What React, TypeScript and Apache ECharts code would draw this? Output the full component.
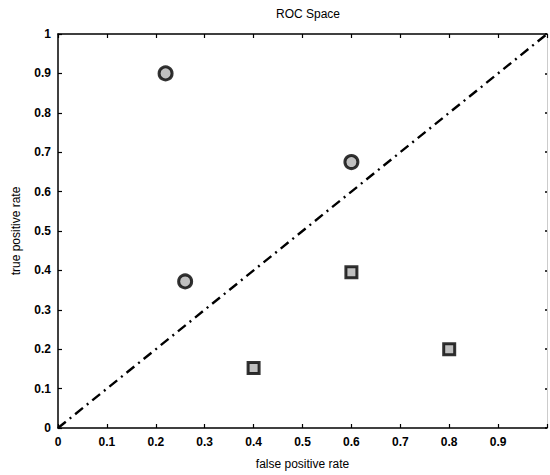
import React, { useEffect, useRef } from "react";
import * as echarts from "echarts";

// Classifier operating points: [false positive rate, true positive rate]
const circlePoints: number[][] = [
  [0.22, 0.9],
  [0.6, 0.675],
  [0.26, 0.372],
];
const squarePoints: number[][] = [
  [0.6, 0.395],
  [0.4, 0.152],
  [0.8, 0.2],
];
// Random-guess diagonal
const diagonal: number[][] = [
  [0, 0],
  [1, 1],
];

const titleText = "ROC Space";
const xAxisName = "false positive rate";
const yAxisName = "true positive rate";

const FONT = "'Liberation Sans', Arial, Helvetica, sans-serif";

export default function App() {
  const ref = useRef<HTMLDivElement>(null);

  useEffect(() => {
    if (!ref.current) return;
    const chart = echarts.init(ref.current, undefined, { renderer: "svg" });

    const fmt = (v: number) => {
      const r = Math.round(v * 10) / 10;
      return r === 0 ? "0" : r === 1 ? "1" : String(r);
    };

    const tickStyle = { show: true, inside: true, length: 4, lineStyle: { color: "#000", width: 1.2 } };

    chart.setOption({
      animation: false,
      backgroundColor: "#fff",
      title: {
        text: titleText,
        left: 303,
        top: 3,
        textAlign: "center",
        textStyle: { fontFamily: FONT, fontSize: 12, fontWeight: "normal", color: "#000" },
      },
      grid: { left: 58, right: 2, top: 34, bottom: 47 },
      xAxis: [
        {
          type: "value",
          min: 0,
          max: 1,
          interval: 0.1,
          position: "bottom",
          name: xAxisName,
          nameLocation: "middle",
          nameGap: 30,
          nameTextStyle: { fontFamily: FONT, fontSize: 12, color: "#000" },
          axisLine: { show: true, onZero: false, lineStyle: { color: "#000", width: 1.5 } },
          axisTick: tickStyle,
          axisLabel: {
            fontFamily: FONT,
            fontSize: 12,
            fontWeight: "bold",
            color: "#000",
            margin: 8,
            formatter: (v: number) => (Math.round(v * 10) === 10 ? "" : fmt(v)),
          },
          splitLine: { show: false },
        },
        {
          type: "value",
          min: 0,
          max: 1,
          interval: 0.1,
          position: "top",
          axisLine: { show: true, onZero: false, lineStyle: { color: "#000", width: 1.5 } },
          axisTick: tickStyle,
          axisLabel: { show: false },
          splitLine: { show: false },
        },
      ],
      yAxis: [
        {
          type: "value",
          min: 0,
          max: 1,
          interval: 0.1,
          position: "left",
          name: yAxisName,
          nameLocation: "middle",
          nameGap: 36,
          nameTextStyle: { fontFamily: FONT, fontSize: 12, color: "#000" },
          axisLine: { show: true, onZero: false, lineStyle: { color: "#000", width: 1.5 } },
          axisTick: tickStyle,
          axisLabel: {
            fontFamily: FONT,
            fontSize: 12,
            fontWeight: "bold",
            color: "#000",
            margin: 7,
            formatter: fmt,
          },
          splitLine: { show: false },
        },
        {
          type: "value",
          min: 0,
          max: 1,
          interval: 0.1,
          position: "right",
          axisLine: { show: true, onZero: false, lineStyle: { color: "#ccc", width: 1 } },
          axisTick: { show: true, inside: true, length: 2, lineStyle: { color: "#000", width: 1.5 } },
          axisLabel: { show: false },
          splitLine: { show: false },
        },
      ],
      series: [
        {
          type: "line",
          data: diagonal,
          symbol: "none",
          lineStyle: { color: "#000", width: 2.4, type: [10, 5, 2, 5] },
          z: 2,
        },
        {
          type: "scatter",
          data: circlePoints,
          symbol: "circle",
          symbolSize: 13,
          itemStyle: { color: "#b0b0b0", borderColor: "#000", borderWidth: 3 },
          z: 3,
        },
        {
          type: "scatter",
          data: squarePoints,
          symbol: "rect",
          symbolSize: 11,
          itemStyle: { color: "#b0b0b0", borderColor: "#000", borderWidth: 3 },
          z: 3,
        },
      ],
    });

    return () => chart.dispose();
  }, []);

  return <div ref={ref} style={{ width: 550, height: 475, position: "absolute", left: 0, top: 0 }} />;
}
